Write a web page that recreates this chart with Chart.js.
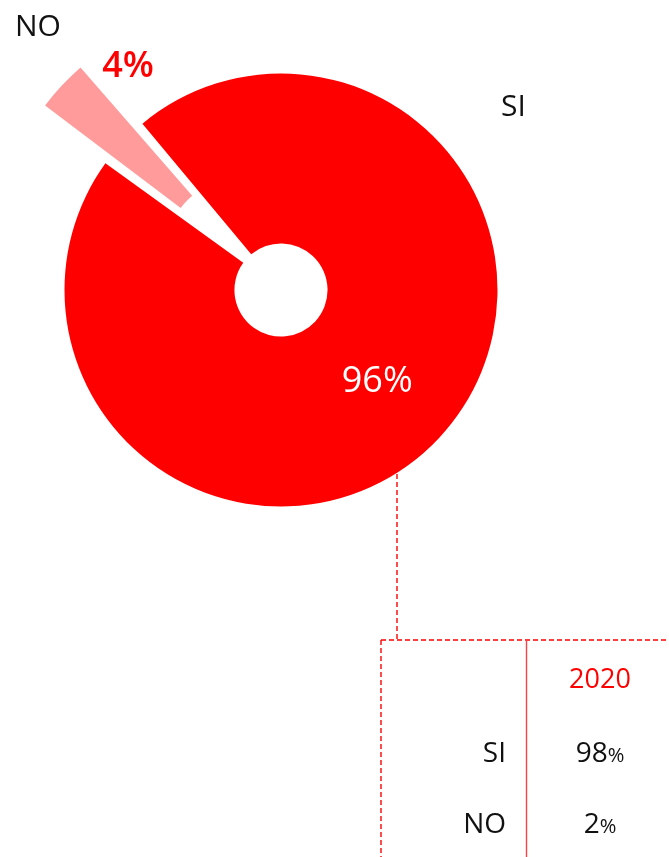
<!DOCTYPE html>
<html>
<head>
<meta charset="utf-8">
<script src="https://cdn.jsdelivr.net/npm/chart.js@4/dist/chart.umd.min.js"></script>
<style>
  html, body { margin:0; padding:0; background:#fff; }
  body { width:669px; height:857px; position:relative; overflow:hidden; font-family:"Open Sans", sans-serif; }
  #pie { position:absolute; left:0; top:0; }
  .lbl { position:absolute; white-space:nowrap; color:#111; line-height:1; }
  .pct { font-size:0.72em; }
</style>
</head>
<body>
<canvas id="pie" width="669" height="857"></canvas>
<div id="overlay"></div>
<script>
// === data ===
const labels = ['SI', 'NO'];
const values = [96, 4];
const tableYear = '2020';
const tableLabels = ['SI', 'NO'];
const tableValues = [98, 2];

const RED = '#ff0000';
const PINK = '#ff9b9b';

// === lines + data labels drawn around the doughnut ===
const extras = {
  id: 'extras',
  beforeDatasetsDraw(chart) {
    const c = chart.ctx;
    const arc = chart.getDatasetMeta(0).data[0];
    c.save();
    c.strokeStyle = RED;
    c.lineWidth = 1.4;
    c.setLineDash([5, 3]);
    c.beginPath();
    c.moveTo(397, arc.y); c.lineTo(397, 640);
    c.moveTo(381, 640); c.lineTo(669, 640);
    c.moveTo(381, 640); c.lineTo(381, 857);
    c.stroke();
    c.setLineDash([]);
    c.strokeStyle = '#ff4040';
    c.beginPath();
    c.moveTo(526.5, 640); c.lineTo(526.5, 857);
    c.stroke();
    c.restore();
  },
  afterDatasetsDraw(chart) {
    const c = chart.ctx;
    const meta = chart.getDatasetMeta(0);
    c.save();
    c.textAlign = 'center';
    c.textBaseline = 'middle';
    // big slice: label at its centroid
    const p = meta.data[0].tooltipPosition();
    c.fillStyle = '#fff';
    c.font = '36px "Open Sans"';
    c.fillText(values[0] + '%', p.x, p.y + 2);
    // small slice: label placed above it
    c.fillStyle = RED;
    c.font = '600 36px "Open Sans"';
    c.fillText(values[1] + '%', 128, 67);
    c.restore();
  }
};

const chart = new Chart(document.getElementById('pie').getContext('2d'), {
  type: 'doughnut',
  data: {
    labels: labels,
    datasets: [{
      data: values,
      backgroundColor: [RED, PINK],
      borderWidth: 0,
      offset: [0, 190]
    }]
  },
  options: {
    responsive: false,
    animation: false,
    events: [],
    radius: 216.5,
    cutout: '21.5%',
    rotation: -39.8,
    layout: { padding: { left: 0, top: 0, right: 107, bottom: 277 } },
    plugins: { legend: { display: false }, tooltip: { enabled: false } }
  },
  plugins: [extras]
});

// === category labels and the small table (HTML text) ===
const overlay = document.getElementById('overlay');
function addText(html, x, baseline, size, align, color) {
  const d = document.createElement('div');
  d.className = 'lbl';
  d.innerHTML = html;
  d.style.fontSize = size + 'px';
  d.style.top = (baseline - 0.888 * size) + 'px';
  if (color) d.style.color = color;
  if (align === 'right') { d.style.right = (669 - x) + 'px'; }
  else if (align === 'center') { d.style.left = (x - 100) + 'px'; d.style.width = '200px'; d.style.textAlign = 'center'; }
  else d.style.left = x + 'px';
  overlay.appendChild(d);
}
addText(labels[1], 15, 37, 30, 'left');
addText(labels[0], 501, 117, 30, 'left');

addText(tableYear, 600, 688, 27, 'center', RED);
tableLabels.forEach((l, i) => {
  const base = 762 + i * 71;
  addText(l, 506, base, 28, 'right');
  addText(tableValues[i] + '<span class="pct">%</span>', 600, base, 28, 'center');
});
</script>
</body>
</html>
